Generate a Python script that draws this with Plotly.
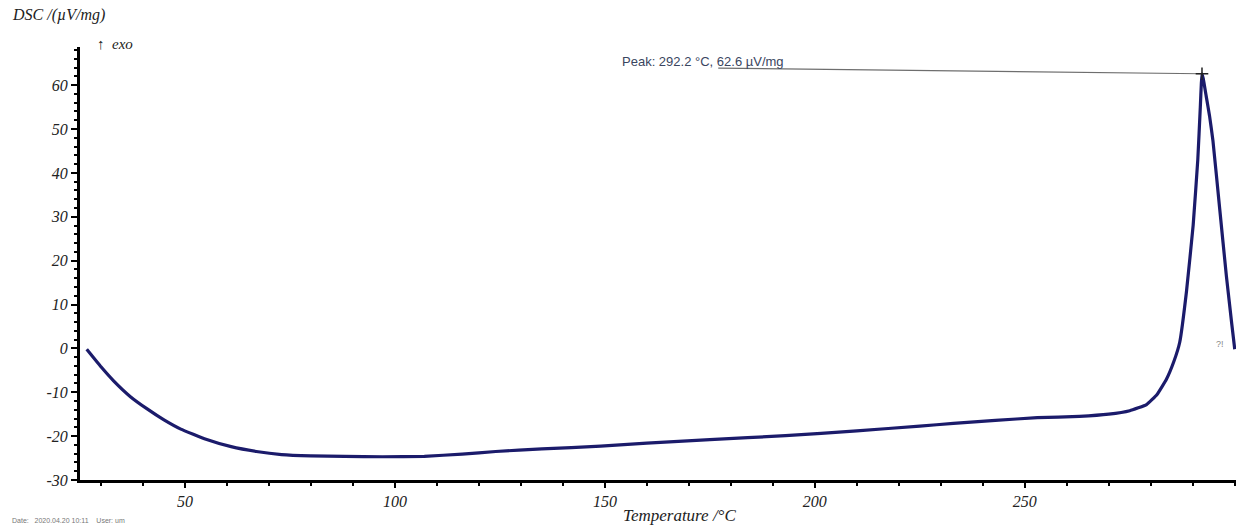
import plotly.graph_objects as go

# ---- data ----
temperature = [26.6, 30, 33, 37, 41, 45, 49, 55, 61, 67, 73, 80, 88, 97, 107, 116, 124,
               135, 149, 160, 175, 193, 210, 225, 233, 243, 253, 263, 270, 275, 279,
               281.5, 283.7, 285.5, 286.9, 288.5, 290.1, 291.2, 291.8, 292.05, 292.2,
               292.5, 293.2, 294.0, 294.8, 296.4, 298, 299.3, 300]
dsc = [-0.2, -4.2, -7.4, -11, -13.8, -16.3, -18.4, -20.7, -22.4, -23.5, -24.2, -24.5,
       -24.6, -24.7, -24.6, -24.1, -23.5, -22.9, -22.3, -21.6, -20.8, -19.9, -18.8,
       -17.7, -17.1, -16.4, -15.8, -15.5, -15.0, -14.2, -12.8, -10.5, -7.1, -3.0, 1.4,
       12.9, 28.1, 43, 55, 60.5, 62.6,
       61.5, 57.5, 53, 47.4, 32, 16.6, 5.5, -0.2]

peak_t = 292.2
peak_v = 62.6
peak_label = "Peak: 292.2 °C, 62.6 µV/mg"
peak_line_start = 177.0
peak_line_start_v = 63.9

x_ticks = [50, 100, 150, 200, 250]
y_ticks = [-30, -20, -10, 0, 10, 20, 30, 40, 50, 60]
x_range = [25.0, 300.3]
y_range = [-30, 68.7]

line_color = "#1b1b6b"
serif = "Liberation Serif"

fig = go.Figure()

fig.add_trace(go.Scatter(
    x=[peak_line_start, peak_t], y=[peak_line_start_v, peak_v],
    mode="lines", line=dict(color="#6e6e6e", width=1.2),
    hoverinfo="skip", showlegend=False))

fig.add_trace(go.Scatter(
    x=temperature, y=dsc, mode="lines",
    line=dict(color=line_color, width=3.2, shape="spline", smoothing=0.3),
    showlegend=False))

fig.add_trace(go.Scatter(
    x=[peak_t], y=[peak_v], mode="markers",
    marker=dict(symbol="cross-thin", size=9, line=dict(color="#222222", width=1.5)),
    showlegend=False))

fig.add_annotation(x=153.6, y=65.3, xref="x", yref="y", text=peak_label,
                   showarrow=False, xanchor="left", yanchor="middle",
                   font=dict(family="Liberation Sans", size=13, color="#3a4560"))

fig.add_annotation(x=296.6, y=0.9, xref="x", yref="y", text="?!",
                   showarrow=False, xanchor="center", yanchor="middle",
                   font=dict(family="Liberation Sans", size=9, color="#888888"))

fig.add_annotation(x=-0.0606, y=1.074, xref="paper", yref="paper",
                   text="DSC /(µV/mg)", showarrow=False, xanchor="left", yanchor="middle",
                   font=dict(family=serif, size=16, color="#222222", style="italic"))

fig.add_annotation(x=0.013, y=1.006, xref="paper", yref="paper",
                   text="↑  exo", showarrow=False, xanchor="left", yanchor="middle",
                   font=dict(family=serif, size=15, color="#222222", style="italic"))

fig.add_annotation(x=0.519, y=-0.083, xref="paper", yref="paper",
                   text="Temperature /°C", showarrow=False, xanchor="center", yanchor="middle",
                   font=dict(family=serif, size=17, color="#222222", style="italic"))

fig.add_annotation(x=-0.0606, y=-0.093, xref="paper", yref="paper",
                   text="Date:   2020.04.20 10:11    User: um", showarrow=False,
                   xanchor="left", yanchor="middle",
                   font=dict(family="Liberation Sans", size=7, color="#777777"))

tick_font = dict(family=serif, size=16, color="#222222", style="italic")

fig.update_xaxes(
    range=x_range, tickvals=x_ticks, ticktext=[str(v) for v in x_ticks],
    showgrid=False, zeroline=False, showline=True, linecolor="black", linewidth=3,
    ticks="outside", ticklen=5, tickwidth=2, tickcolor="black",
    tickfont=tick_font,
    minor=dict(dtick=10, tick0=0, ticks="outside", ticklen=3, tickwidth=1.5,
               tickcolor="black", showgrid=False))

fig.update_yaxes(
    range=y_range, tickvals=y_ticks, ticktext=[str(v) for v in y_ticks],
    showgrid=False, zeroline=False, showline=True, linecolor="black", linewidth=3,
    ticks="outside", ticklen=6, tickwidth=2, tickcolor="black",
    tickfont=tick_font,
    minor=dict(dtick=2, tick0=0, ticks="outside", ticklen=3, tickwidth=1.5,
               tickcolor="black", showgrid=False))

fig.update_layout(
    width=1236, height=527,
    margin=dict(l=80, r=0, t=47, b=47),
    plot_bgcolor="white", paper_bgcolor="white",
    showlegend=False)

fig.write_html("out.html", config={"displayModeBar": False},
               post_script="document.body.style.margin='0';document.body.style.overflow='hidden';")
